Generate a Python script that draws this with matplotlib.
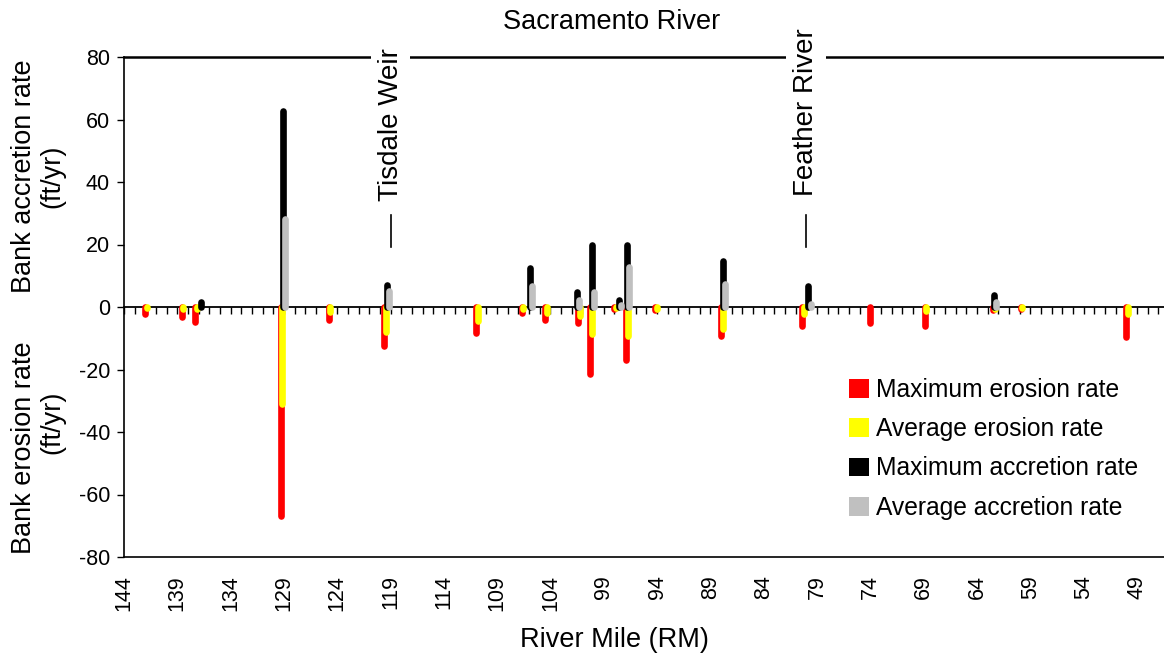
import numpy as np
import matplotlib
matplotlib.use("Agg")
import matplotlib.pyplot as plt
from matplotlib.patches import Patch

plt.rcParams['font.family'] = ['Liberation Sans', 'DejaVu Sans']
plt.rcParams['axes.unicode_minus'] = False

# erosion sites: river mile, maximum and average erosion rate (ft/yr)
erosion_rm = [142.0, 138.6, 137.3, 129.3, 124.8, 119.6, 111.0, 106.7, 104.5,
              101.4, 100.3, 98.0, 96.9, 94.2, 88.0, 80.4, 74.0, 68.9, 62.5,
              59.9, 50.0]
max_erosion = [-2.2, -3.3, -4.8, -67.0, -4.1, -12.5, -8.4, -1.8, -4.0,
               -5.0, -21.4, -0.5, -17.0, -1.1, -9.2, -6.0, -5.0, -6.0, -1.0,
               -0.5, -9.7]
avg_erosion = [-0.4, -0.5, -0.6, -31.0, -1.5, -8.0, -4.5, -0.7, -1.8,
               -3.0, -8.7, -0.3, -9.3, -0.5, -7.0, -2.3, np.nan, -1.3, -0.5,
               -0.3, -2.3]

# accretion sites: river mile, maximum and average accretion rate (ft/yr)
accretion_rm = [136.8, 129.1, 119.35, 105.9, 101.55, 100.1, 97.6, 96.85,
                87.8, 79.8, 62.4]
max_accretion = [1.6, 62.7, 7.1, 12.5, 4.9, 20.0, 2.1, 20.0, 14.7, 6.7, 4.0]
avg_accretion = [np.nan, 28.2, 5.1, 6.7, 2.2, 4.8, 0.5, 12.9, 7.5, 1.1, 1.6]

landmarks = ["Tisdale Weir", "Feather River"]
landmark_rm = [119.0, 80.0]
landmark_text_y = [33.8, 35.4]

series_colors = ["#ff0000", "#ffff00", "#000000", "#c0c0c0"]
series_labels = ["Maximum erosion rate", "Average erosion rate",
                 "Maximum accretion rate", "Average accretion rate"]


def draw_bars(ax, rm, values, color, shift, z):
    rm = np.asarray(rm, dtype=float)
    values = np.asarray(values, dtype=float)
    ok = ~np.isnan(values)
    ax.vlines(rm[ok] - shift, 0, values[ok], colors=color, linewidth=4.8,
              capstyle='round', zorder=z)


fig = plt.figure(figsize=(11.64, 6.56), dpi=100)
ax = fig.add_axes([124 / 1164, 1 - 557 / 656, 1039.5 / 1164, 500 / 656])

draw_bars(ax, erosion_rm, max_erosion, series_colors[0], 0.0, 3)
draw_bars(ax, erosion_rm, avg_erosion, series_colors[1], 0.16, 4)
draw_bars(ax, accretion_rm, max_accretion, series_colors[2], 0.0, 5)
draw_bars(ax, accretion_rm, avg_accretion, series_colors[3], 0.2, 6)

ax.set_xlim(144, 46.5)
ax.set_ylim(-80, 80)
ax.set_yticks(np.arange(-80, 81, 20))
ax.tick_params(axis='y', direction='out', length=5, width=1, pad=5,
               labelsize=15.5)

# mile ticks ride on the zero line, labels sit below the plot
ax.spines['bottom'].set_position(('data', 0))
ax.spines['bottom'].set_linewidth(1.3)
ax.spines['left'].set_linewidth(1.2)
ax.spines['right'].set_visible(False)
ax.spines['top'].set_linewidth(1.8)
ax.set_xticks(np.arange(47, 145, 1))
ax.tick_params(axis='x', direction='out', length=4.7, width=1,
               labelbottom=False)

sec = ax.secondary_xaxis('bottom')
sec.set_xticks(np.arange(144, 46, -5))
sec.tick_params(axis='x', length=0, pad=13, labelsize=15.5, labelrotation=90)
sec.spines['bottom'].set_linewidth(1.2)

for name, rm, ty in zip(landmarks, landmark_rm, landmark_text_y):
    ax.text(rm, ty, name, rotation=90, ha='center', va='bottom',
            fontsize=20, zorder=10,
            bbox=dict(facecolor='white', edgecolor='none', pad=5))
    ax.plot([rm, rm], [19.1, 29.5], color='black', linewidth=1.2)

fig.text(612 / 1164, 1 - 22 / 656, "Sacramento River", ha='center',
         va='center', fontsize=19.5)
fig.text(614 / 1164, 1 - 640 / 656, "River Mile (RM)", ha='center',
         va='center', fontsize=19.5)

fig.text(24 / 1164, 1 - 176 / 656, "Bank accretion rate", rotation=90,
         ha='center', va='center', fontsize=19.5)
fig.text(52 / 1164, 1 - 176 / 656, "(ft/yr)", rotation=90,
         ha='center', va='center', fontsize=19.5)
fig.text(24 / 1164, 1 - 448 / 656, "Bank erosion rate", rotation=90,
         ha='center', va='center', fontsize=19.5)
fig.text(52 / 1164, 1 - 422 / 656, "(ft/yr)", rotation=90,
         ha='center', va='center', fontsize=19.5)

handles = [Patch(facecolor=c, edgecolor='none') for c in series_colors]
fig.legend(handles, series_labels, loc='upper left',
           bbox_to_anchor=(849 / 1164, 1 - 378 / 656), frameon=False,
           fontsize=17.7, handlelength=0.8, handleheight=0.8,
           handletextpad=0.3, labelspacing=0.62, borderpad=0,
           borderaxespad=0)

fig.savefig("out.png", dpi=100, facecolor='white')
